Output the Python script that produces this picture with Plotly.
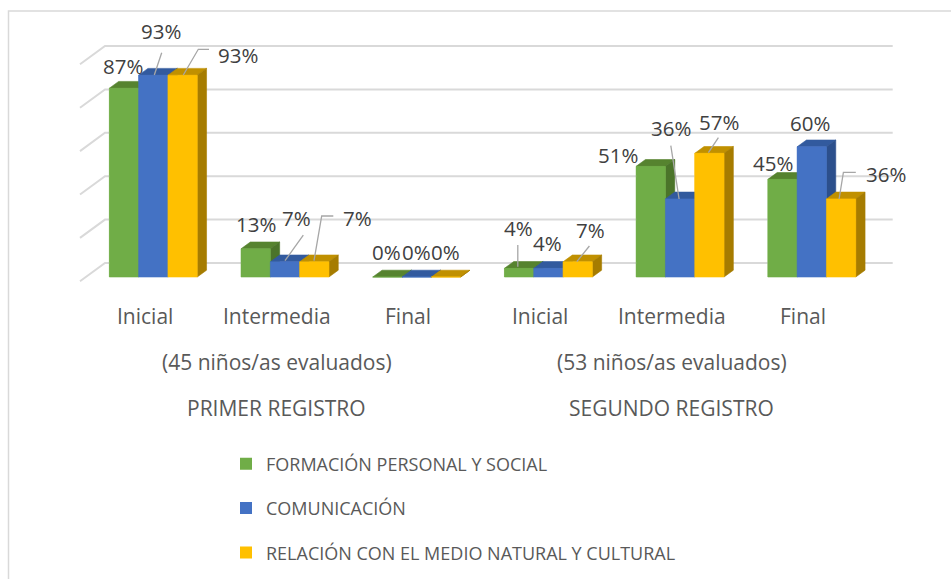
import plotly.graph_objects as go

# ---------------- data ----------------
categories = ["Inicial", "Intermedia", "Final", "Inicial", "Intermedia", "Final"]
group_labels = ["(45 niños/as evaluados)", "(53 niños/as evaluados)"]
register_labels = ["PRIMER REGISTRO", "SEGUNDO REGISTRO"]
series_names = ["FORMACIÓN PERSONAL Y SOCIAL", "COMUNICACIÓN",
                "RELACIÓN CON EL MEDIO NATURAL Y CULTURAL"]
formacion = [87, 13, 0, 4, 51, 45]
comunicacion = [93, 7, 0, 4, 36, 60]
relacion = [93, 7, 0, 7, 57, 36]
y_ticks = [0, 20, 40, 60, 80, 100]

# ---------------- style ----------------
W_FIG, H_FIG = 951, 579
FONT = "Open Sans"
front_colors = ["#70AD47", "#4472C4", "#FFC000"]
top_colors = ["#56832F", "#325A9E", "#C09000"]
side_colors = ["#4B742A", "#2C4F8C", "#A67C00"]
GRID = "#D9D9D9"

# pixel geometry of plot area
LP, RP, TP, BP = 60, 940, 15, 300
PXX = 131.7          # px per category unit
PXY = 2.17           # px per percent
X0PX = 153.3         # px of first category centre
Y0PX = 277.0         # px of value 0 (bar front base)
xr = [(LP - X0PX) / PXX, (RP - X0PX) / PXX]
yr = [(Y0PX - BP) / PXY, (Y0PX - TP) / PXY]

BAR_W = 29.3 / PXX
DX = 9.3 / PXX       # bar depth (projected)
DY = 6.8 / PXY
WX = 19.0 / PXX      # back wall offset
WY = 14.0 / PXY
XL, XR = -0.511, 5.47
DIAG_X = (80 - X0PX) / PXX
DIAG_Y = 18.3 / PXY


def paper_y(px):
    return (BP - px) / (BP - TP)


def paper_x(px):
    return (px - LP) / (RP - LP)


# label offsets (px, relative to bar front-top centre): (dx, dy) dy down-positive
label_offsets = [
    [(-0.7, -22.2), (0.3, -24.8), (-0.9, -25), (-0.7, -40.3), (-33.2, -11.3), (-9.4, -16.7)],
    [(7.7, -44.2), (11.7, -43.8), (-0.7, -25), (-1.0, -25.3), (-8.8, -70.9), (-1.4, -23.5)],
    [(55.4, -20.2), (43.2, -43.8), (-0.5, -25), (13.2, -31.8), (9.2, -31.6), (44.5, -24.9)],
]
leaders = [
    [None, None, None, [(-1.3, -23.3), (-1.3, -1.6)], None, None],
    [[(8.4, -22.5), (1, -0.2)], [(18.3, -26.8), (0, -1.1)], None, None,
     [(-9.3, -53.2), (-1, 0.1)], None],
    [[(26.4, -25.9), (15.7, -25.9), (0.7, -0.2)],
     [(19, -45.8), (7.4, -45.8), (-0.3, -1.1)], None,
     [(11.7, -15.8), (-0.9, -0.1)], [(9, -15.6), (-1, -0.6)],
     [(14.7, -26.6), (2.3, -26.6), (-2, 0.1)]],
]

all_values = [formacion, comunicacion, relacion]
xcat = list(range(len(categories)))

fig = go.Figure()

# back wall gridlines + left wall diagonals
gx, gy = [], []
for t in y_ticks:
    gx += [DIAG_X, XL + WX, XR + WX, None]
    gy += [t + WY - DIAG_Y, t + WY, t + WY, None]
fig.add_trace(go.Scatter(x=gx, y=gy, mode="lines", line=dict(color=GRID, width=2),
                         hoverinfo="skip", showlegend=False))

# front faces as bars (legend)
for i, (name, vals) in enumerate(zip(series_names, all_values)):
    fig.add_trace(go.Bar(
        x=[c + (i - 1) * BAR_W for c in xcat], y=vals, width=BAR_W,
        name=name, marker=dict(color=front_colors[i], line=dict(width=0)),
        legendgroup=name, showlegend=True, hoverinfo="skip"))

# 3D faces (painter's order, left to right within each cluster)
for i, vals in enumerate(all_values):
    tx, ty, sx, sy, fx, fy = [], [], [], [], [], []
    for c, v in zip(xcat, vals):
        xc = c + (i - 1) * BAR_W
        l, r = xc - BAR_W / 2, xc + BAR_W / 2
        tx += [l, r, r + DX, l + DX, l, None]
        ty += [v, v, v + DY, v + DY, v, None]
        sx += [r, r + DX, r + DX, r, r, None]
        sy += [0, DY, v + DY, v, 0, None]
        fx += [l, r, r, l, l, None]
        fy += [0, 0, v, v, 0, None]
    for xs, ys, col in ((tx, ty, top_colors[i]), (sx, sy, side_colors[i]),
                        (fx, fy, front_colors[i])):
        fig.add_trace(go.Scatter(x=xs, y=ys, mode="lines", fill="toself",
                                 fillcolor=col, line=dict(color=col, width=0.6),
                                 hoverinfo="skip", showlegend=False,
                                 legendgroup=series_names[i]))

# leader lines
lx, ly = [], []
for i, vals in enumerate(all_values):
    for c, v in zip(xcat, vals):
        pts = leaders[i][c]
        if pts is None:
            continue
        xc = c + (i - 1) * BAR_W
        for ox, oy in pts:
            lx.append(xc + ox / PXX)
            ly.append(v - oy / PXY)
        lx.append(None)
        ly.append(None)
fig.add_trace(go.Scatter(x=lx, y=ly, mode="lines", line=dict(color="#A6A6A6", width=1.3),
                         hoverinfo="skip", showlegend=False))

annotations = []
# data labels
for i, vals in enumerate(all_values):
    for c, v in zip(xcat, vals):
        ox, oy = label_offsets[i][c]
        annotations.append(dict(
            x=c + (i - 1) * BAR_W, y=v, xref="x", yref="y", text=f"{v}%",
            showarrow=False, xshift=ox, yshift=-oy, xanchor="center", yanchor="middle",
            font=dict(family=FONT, size=20.5, color="#404040")))

# category labels
LBL = dict(family=FONT, size=21, color="#595959")
for c, cat in enumerate(categories):
    annotations.append(dict(x=c, y=paper_y(316), xref="x", yref="paper", text=cat,
                            showarrow=False, xshift=-8.5, xanchor="center", yanchor="middle",
                            font=LBL))
for g, (gl, rl) in enumerate(zip(group_labels, register_labels)):
    annotations.append(dict(x=3 * g + 1, y=paper_y(362), xref="x", yref="paper", text=gl,
                            showarrow=False, xshift=-8.5, xanchor="center", yanchor="middle",
                            font=LBL))
    annotations.append(dict(x=3 * g + 1, y=paper_y(408), xref="x", yref="paper", text=rl,
                            showarrow=False, xshift=-8.5, xanchor="center", yanchor="middle",
                            font=LBL))

fig.update_layout(
    width=W_FIG, height=H_FIG,
    margin=dict(l=LP, r=W_FIG - RP, t=TP, b=H_FIG - BP, autoexpand=False),
    paper_bgcolor="white", plot_bgcolor="white",
    barmode="overlay",
    xaxis=dict(range=xr, visible=False, fixedrange=True),
    yaxis=dict(range=yr, visible=False, fixedrange=True),
    showlegend=True,
    legend=dict(x=paper_x(226), y=paper_y(445.5), xanchor="left", yanchor="top",
                orientation="v", traceorder="grouped", tracegroupgap=18,
                font=dict(family=FONT, size=18, color="#595959"),
                bgcolor="rgba(0,0,0,0)", borderwidth=0, itemclick=False,
                itemdoubleclick=False),
    annotations=annotations,
    shapes=[dict(type="rect", xref="paper", yref="paper",
                 x0=paper_x(8.5), x1=paper_x(1000), y0=paper_y(11), y1=paper_y(700),
                 line=dict(color=GRID, width=1.5), fillcolor="rgba(0,0,0,0)", layer="below")],
)

fig.write_html("out.html", config={"displayModeBar": False},
               post_script="document.body.style.margin='0';document.body.style.overflow='hidden';")
